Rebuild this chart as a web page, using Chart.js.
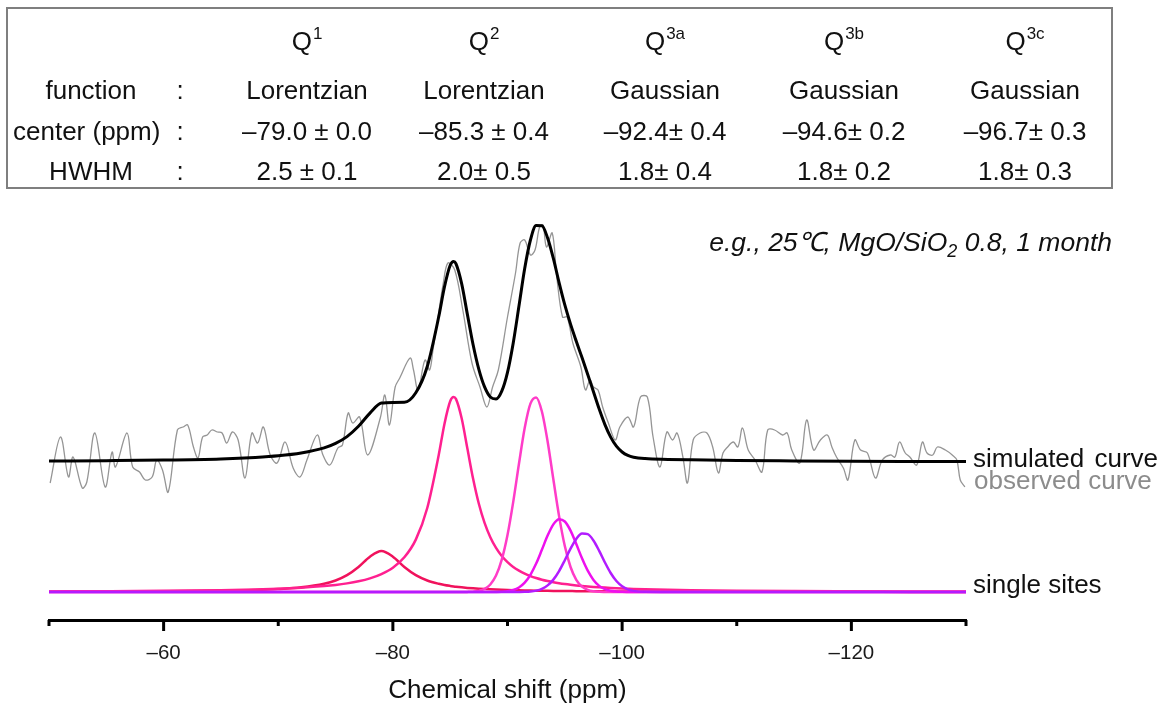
<!DOCTYPE html>
<html>
<head>
<meta charset="utf-8">
<script src="https://cdn.jsdelivr.net/npm/chart.js@4.4.1/dist/chart.umd.min.js"></script>
<style>
  html, body { margin: 0; padding: 0; background: #fff; }
  #page { position: relative; width: 1167px; height: 711px; overflow: hidden;
          font-family: Arial, "Liberation Sans", sans-serif; color: #111; }
  #chartBox { position: absolute; left: 0; top: 0; width: 1167px; height: 711px; }
  #tableBox { position: absolute; left: 6px; top: 7px; width: 1107px; height: 182px;
              box-sizing: border-box; border: 2px solid #7f7f7f; }
  .t { position: absolute; white-space: nowrap; font-size: 26px; line-height: 30px; }
  .c { transform: translateX(-50%); }
  .sup { font-size: 17px; position: relative; top: -11px; margin-left: 1px; }
  .note { font-style: italic; font-size: 26.5px; right: 55px; top: 227px; }
  .note sub { font-size: 18px; vertical-align: baseline; position: relative; top: 6px; }
</style>
</head>
<body>
<div id="page">
  <div id="tableBox"></div>
  <div id="chartBox"><canvas id="nmr" width="1167" height="711"></canvas></div>
  <div class="t note">e.g., 25℃, MgO/SiO<sub>2</sub> 0.8, 1 month</div>
  <div class="t" style="left:973px; top:443px; color:#111; word-spacing:3px;">simulated curve</div>
  <div class="t" style="left:974px; top:465px; color:#8c8c8c;">observed curve</div>
  <div class="t" style="left:973px; top:569px; color:#111;">single sites</div>
</div>
<script>
// fit parameters shown in the table
const siteLabels = ["1", "2", "3a", "3b", "3c"];
const lineShapes = ["Lorentzian", "Lorentzian", "Gaussian", "Gaussian", "Gaussian"];
const centerText = ["–79.0 ± 0.0", "–85.3 ± 0.4", "–92.4± 0.4", "–94.6± 0.2", "–96.7± 0.3"];
const hwhmText = ["2.5 ± 0.1", "2.0± 0.5", "1.8± 0.4", "1.8± 0.2", "1.8± 0.3"];

// x ticks that carry a label
const labeledTicks = [-60, -80, -100, -120];

// chemical shift grid (ppm) for the fitted curves
const shiftGrid = [-50, -55, -60, -65, -68, -70, -72, -74, -75, -76, -77, -78, -79, -80, -81, -82, -83, -84,
  -84.5, -85, -85.3, -85.5,
  -86, -86.5, -87, -87.5, -88, -88.5, -89, -89.5, -90, -90.5, -91, -91.5, -92, -92.5, -93, -93.5,
  -94, -94.5, -95, -95.5, -96, -96.5, -97, -97.5, -98, -98.5, -99, -99.5, -100, -100.5,
  -101, -102, -104, -106, -110, -115, -120, -125, -130];

const q1Values = [0.3, 0.44, 0.7, 1.27, 2.01, 2.94, 4.64, 8.2, 11.5, 16.8, 25, 35.3, 41, 35.3, 25, 16.8, 11.5, 8.2,
  7.0, 6.07, 5.58, 5.28,
  4.64, 4.1, 3.65, 3.26, 2.94, 2.66, 2.41, 2.2, 2.01, 1.85, 1.71, 1.58, 1.46, 1.36, 1.27, 1.18,
  1.11, 1.04, 0.98, 0.92, 0.87, 0.82, 0.78, 0.73, 0.7, 0.66, 0.63, 0.6, 0.57, 0.55,
  0.52, 0.48, 0.41, 0.35, 0.26, 0.2, 0.15, 0.12, 0.1];

const q2Values = [0.62, 0.85, 1.21, 1.87, 2.57, 3.28, 4.31, 5.93, 7.09, 8.63, 10.7, 13.6, 17.9, 24.3, 34.7, 52.4, 84, 137,
  168.1, 190.7, 195, 193.1,
  173.7, 143.4, 113.2, 88.2, 69.1, 54.8, 44.1, 36, 29.9, 25.1, 21.4, 18.4, 15.95, 13.97, 12.3, 10.95,
  9.79, 8.8, 7.95, 7.22, 6.58, 6.03, 5.54, 5.1, 4.72, 4.38, 4.07, 3.79, 3.54, 3.32,
  3.11, 2.76, 2.21, 1.8, 1.27, 0.88, 0.65, 0.49, 0.39];

const q3aValues = [0, 0, 0, 0, 0, 0, 0, 0, 0, 0, 0, 0, 0, 0, 0, 0, 0, 0,
  0, 0, 0, 0.01,
  0.03, 0.11, 0.38, 1.15, 3.1, 7.53, 16.4, 32.3, 56.9, 90.1, 128.2, 164, 188.4, 194.6, 180.5, 150.5,
  112.7, 75.9, 45.9, 25, 12.2, 5.35, 2.11, 0.75, 0.24, 0.07, 0, 0, 0, 0,
  0, 0, 0, 0, 0, 0, 0, 0, 0];

const q3bValues = [0, 0, 0, 0, 0, 0, 0, 0, 0, 0, 0, 0, 0, 0, 0, 0, 0, 0,
  0, 0, 0, 0,
  0, 0, 0, 0, 0.01, 0.03, 0.09, 0.28, 0.79, 2.0, 4.56, 9.35, 17.2, 28.4, 42.2, 56.4,
  67.6, 72.8, 70.5, 61.4, 48, 33.7, 21.3, 12.1, 6.15, 2.82, 1.16, 0.43, 0.14, 0.04,
  0, 0, 0, 0, 0, 0, 0, 0, 0];

const q3cValues = [0, 0, 0, 0, 0, 0, 0, 0, 0, 0, 0, 0, 0, 0, 0, 0, 0, 0,
  0, 0, 0, 0,
  0, 0, 0, 0, 0, 0, 0, 0, 0, 0.02, 0.06, 0.18, 0.52, 1.36, 3.15, 6.6,
  12.4, 20.9, 31.8, 43.4, 53.1, 58.5, 57.9, 51.5, 41.1, 29.5, 19, 11, 5.75, 2.69,
  1.13, 0.14, 0, 0, 0, 0, 0, 0, 0];

// simulated curve, drawn stacked above the single sites
const simulatedValues = [130.9, 131.3, 131.9, 133.1, 134.6, 136.2, 139, 144.1, 148.6, 155.4, 165.7, 178.9, 188.9, 189.6, 189.7, 199.2, 225.5, 275.2,
  305.1, 326.8, 330.6, 328.4,
  308.4, 277.6, 247.2, 222.6, 205.1, 195, 193, 200.8, 219.6, 249.1, 285.9, 323.5, 352, 366.5, 366.2, 354,
  333.6, 309.4, 287.1, 267.9, 250.8, 234.4, 217.6, 200.2, 182.9, 167.4, 154.9, 145.8, 140, 136.6,
  134.8, 133.4, 132.6, 132.15, 131.5, 131.1, 130.8, 130.6, 130.5];

// observed spectrum (noisy)
const observedShift = [-50.1, -51.0, -51.7, -52.1, -52.9, -53.3, -54.0, -54.9, -55.5, -55.8, -56.8, -57.3, -57.9, -58.4,
  -59.0, -59.4, -59.9, -60.4, -61.2, -61.7, -62.1, -62.6, -63.0, -63.4, -63.8, -64.2, -64.7, -65.1, -65.5, -66.0,
  -66.5, -67.1, -67.7, -68.2, -68.7, -69.3, -69.9, -70.6, -71.3, -71.9, -72.5, -73.4, -73.9, -74.5, -75.2, -75.6,
  -76.1, -76.5, -77.1, -77.8, -78.9, -79.3, -79.7, -80.2, -80.6, -81.5, -81.8, -82.2, -82.8, -83.2, -83.5, -83.9,
  -84.4, -84.8, -85.4, -86.1, -86.9, -87.6, -88.2, -88.7, -89.2, -90.0, -90.7, -91.1, -91.5, -92.0, -92.4, -92.8,
  -93.1, -93.4, -93.9, -94.3, -94.8, -95.2, -95.7, -96.4, -96.8, -97.2, -97.5, -97.9, -98.3, -98.8, -99.4, -99.8,
  -100.5, -101.0, -101.6, -102.2, -102.7, -103.3, -103.9, -104.4, -104.8, -105.3, -105.7, -106.2, -106.8, -107.4,
  -107.9, -108.4, -108.8, -109.2, -109.7, -110.1, -110.5, -111.0, -111.6, -112.2, -112.7, -113.3, -114.0, -114.4,
  -114.8, -115.5, -116.1, -116.7, -117.3, -117.9, -118.3, -118.7, -119.3, -119.7, -120.3, -120.8, -121.4, -122.1,
  -122.7, -123.4, -123.8, -124.2, -124.7, -125.1, -125.7, -126.2, -126.6, -127.1, -127.5, -128.2, -128.8, -129.2,
  -129.5, -129.9];
const observedValues = [109, 155, 115, 135, 104, 110, 159, 105, 140, 125, 159, 125, 120, 112,
  115, 132, 122, 100, 162, 165, 167, 145, 134, 155, 157, 162, 160, 159, 149, 160,
  152, 114, 159, 149, 165, 137, 129, 150, 124, 115, 132, 157, 137, 127, 144, 147,
  179, 169, 175, 137, 174, 197, 167, 205, 214, 234, 222, 202, 232, 222, 242, 272,
  309, 329, 322, 282, 229, 205, 185, 205, 222, 275, 319, 349, 352, 337, 342, 365,
  367, 345, 359, 315, 275, 275, 249, 225, 202, 212, 205, 202, 185, 169, 152, 165,
  175, 165, 195, 195, 155, 125, 160, 152, 159, 135, 109, 152, 159, 159,
  145, 119, 139, 145, 150, 145, 164, 142, 132, 120, 162, 162, 157, 159,
  142, 129, 172, 142, 152, 157, 145, 135, 124, 112, 152, 142, 139, 114,
  132, 137, 135, 150, 139, 135, 127, 150, 139, 137, 145, 142, 137, 132,
  112, 105];

// ---- table ----
const tableCols = [307, 484, 665, 844, 1025];
const page = document.getElementById("page");

function addText(html, left, top, centered) {
  const el = document.createElement("div");
  el.className = "t" + (centered ? " c" : "");
  el.style.left = left + "px";
  el.style.top = top + "px";
  el.innerHTML = html;
  page.appendChild(el);
}

addText("function", 91, 75, true);
addText("center (ppm)", 13, 116, false);
addText("HWHM", 91, 156, true);
[75, 116, 156].forEach(top => addText(":", 180, top, true));

siteLabels.forEach((s, i) => {
  addText('Q<span class="sup">' + s + "</span>", tableCols[i], 26, true);
  addText(lineShapes[i], tableCols[i], 75, true);
  addText(centerText[i], tableCols[i], 116, true);
  addText(hwhmText[i], tableCols[i], 156, true);
});

// ---- chart ----
const toPoints = (xs, ys) => xs.map((x, i) => ({ x: x, y: ys[i] }));

// short minor ticks, longer labelled ticks
const tickMarks = {
  id: "tickMarks",
  afterDraw(chart) {
    const { ctx } = chart;
    const x = chart.scales.x;
    ctx.save();
    ctx.strokeStyle = "#000";
    ctx.lineWidth = 3;
    x.ticks.forEach(t => {
      const px = x.getPixelForValue(t.value);
      const len = labeledTicks.includes(t.value) ? 11 : 6;
      ctx.beginPath();
      ctx.moveTo(px, x.top);
      ctx.lineTo(px, x.top + len);
      ctx.stroke();
    });
    ctx.restore();
  }
};

const smooth = { cubicInterpolationMode: "monotone", pointRadius: 0, fill: false };

new Chart(document.getElementById("nmr"), {
  type: "line",
  data: {
    datasets: [
      { label: "simulated curve", data: toPoints(shiftGrid, simulatedValues), borderColor: "#000", borderWidth: 3, ...smooth },
      { label: "observed curve", data: toPoints(observedShift, observedValues), borderColor: "#959595", borderWidth: 1.3,
        tension: 0.35, pointRadius: 0, fill: false },
      { label: "Q3c", data: toPoints(shiftGrid, q3cValues), borderColor: "#b21cff", borderWidth: 2.5, ...smooth },
      { label: "Q3b", data: toPoints(shiftGrid, q3bValues), borderColor: "#ee10ee", borderWidth: 2.5, ...smooth },
      { label: "Q3a", data: toPoints(shiftGrid, q3aValues), borderColor: "#ff3cc8", borderWidth: 2.5, ...smooth },
      { label: "Q2", data: toPoints(shiftGrid, q2Values), borderColor: "#ff2090", borderWidth: 2.5, ...smooth },
      { label: "Q1", data: toPoints(shiftGrid, q1Values), borderColor: "#f0125c", borderWidth: 2.5, ...smooth }
    ]
  },
  options: {
    responsive: false,
    animation: false,
    layout: { padding: { left: 49, right: 201, top: 200, bottom: 0 } },
    plugins: { legend: { display: false }, tooltip: { enabled: false } },
    scales: {
      x: {
        type: "linear",
        min: -130,
        max: -50,
        reverse: true,
        border: { display: true, color: "#000", width: 3 },
        grid: { display: true, drawOnChartArea: false, drawTicks: false },
        ticks: {
          stepSize: 10,
          autoSkip: false,
          maxRotation: 0,
          padding: 21,
          color: "#1a1a1a",
          font: { family: "Arial", size: 20.5 },
          callback: v => labeledTicks.includes(v) ? "–" + Math.abs(v) : ""
        },
        title: {
          display: true,
          text: "Chemical shift (ppm)",
          color: "#111",
          font: { family: "Arial", size: 26 },
          padding: { top: 0, bottom: 5 }
        },
        afterFit: s => { s.height = 91; }
      },
      y: { display: false, min: -28, max: 392 }
    }
  },
  plugins: [tickMarks]
});
</script>
</body>
</html>
